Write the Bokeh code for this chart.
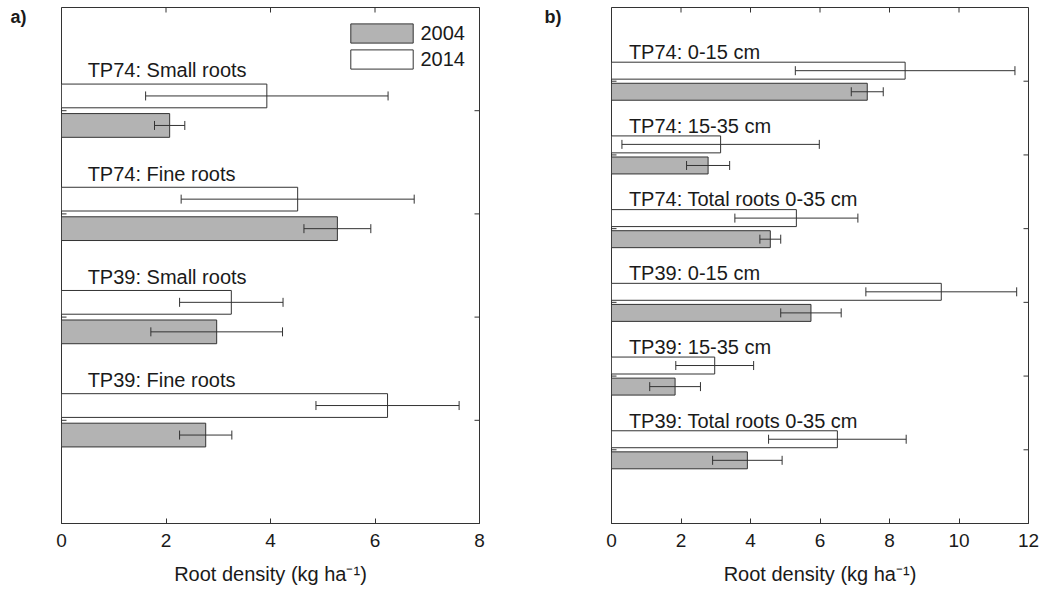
import math
from bokeh.plotting import figure
from bokeh.models import (ColumnDataSource, Whisker, TeeHead, Range1d,
                          FixedTicker, Legend, LegendItem)
from bokeh.layouts import row
from bokeh.embed import file_html
from bokeh.resources import INLINE
from bokeh.core.properties import value

# ---------------- data ----------------
cats_a = ["TP74: Small roots", "TP74: Fine roots", "TP39: Small roots", "TP39: Fine roots"]
a_2004 = [2.07, 5.28, 2.97, 2.76]
a_2004_err = [0.29, 0.64, 1.26, 0.50]
a_2014 = [3.93, 4.52, 3.25, 6.24]
a_2014_err = [2.32, 2.23, 0.99, 1.37]
xticks_a = [0, 2, 4, 6, 8]

cats_b = ["TP74: 0-15 cm", "TP74: 15-35 cm", "TP74: Total roots 0-35 cm",
          "TP39: 0-15 cm", "TP39: 15-35 cm", "TP39: Total roots 0-35 cm"]
b_2004 = [7.36, 2.78, 4.57, 5.74, 1.83, 3.91]
b_2004_err = [0.46, 0.62, 0.30, 0.87, 0.73, 1.00]
b_2014 = [8.45, 3.14, 5.32, 9.49, 2.97, 6.50]
b_2014_err = [3.16, 2.84, 1.77, 2.17, 1.12, 1.98]
xticks_b = [0, 2, 4, 6, 8, 10, 12]

series_names = ["2004", "2014"]
xlabel = "Root density (kg ha\u207b\u00b9)"

FONT = "Liberation Sans"
DARK = "#333333"
TXT = "#1a1a1a"
GREY = "#b3b3b3"
H = 590
BT, BB = 7, 67


def panel(cats, v04, e04, v14, e14, xticks, width, bl, br, tag, txt_off, legend):
    n = len(cats)
    pos = [n - i for i in range(n)]
    p = figure(width=width, height=H, x_range=Range1d(xticks[0], xticks[-1]),
               y_range=Range1d(0, n + 1), output_backend="svg", toolbar_location=None,
               min_border_left=bl, min_border_right=br, min_border_top=BT,
               min_border_bottom=BB)
    p.grid.visible = False
    p.outline_line_color = DARK
    p.background_fill_color = "white"
    p.border_fill_color = "white"

    off, hgt = 0.143, 0.23
    s04 = ColumnDataSource(dict(y=[q - off for q in pos], x=v04,
                                lo=[v - e for v, e in zip(v04, e04)],
                                hi=[v + e for v, e in zip(v04, e04)]))
    s14 = ColumnDataSource(dict(y=[q + off for q in pos], x=v14,
                                lo=[v - e for v, e in zip(v14, e14)],
                                hi=[v + e for v, e in zip(v14, e14)]))
    r04 = p.hbar(y="y", right="x", left=0, height=hgt, source=s04,
                 fill_color=GREY, line_color=DARK, line_width=1)
    r14 = p.hbar(y="y", right="x", left=0, height=hgt, source=s14,
                 fill_color="white", line_color=DARK, line_width=1)
    for s in (s04, s14):
        w = Whisker(source=s, base="y", lower="lo", upper="hi", dimension="width",
                    line_color=DARK, line_width=1, level="overlay",
                    upper_head=TeeHead(size=9, line_color=DARK, line_width=1),
                    lower_head=TeeHead(size=9, line_color=DARK, line_width=1))
        p.add_layout(w)

    ts = ColumnDataSource(dict(x=[0.5] * n, y=[q + txt_off for q in pos], t=cats))
    p.text(x="x", y="y", text="t", source=ts, text_font=value(FONT),
           text_font_size="20px", text_color=TXT, text_baseline="middle",
           text_align="left")

    # inward ticks on top, left and right edges (clipped half-dashes)
    p.scatter(x=xticks, y=[n + 1] * len(xticks), marker="dash", size=10,
              angle=math.pi / 2, line_color=DARK, line_width=1)
    p.scatter(x=[xticks[-1]] * n, y=pos, marker="dash", size=10,
              line_color=DARK, line_width=1)
    p.scatter(x=[xticks[0]] * n, y=pos, marker="dash", size=10,
              line_color=DARK, line_width=1)

    ax = p.xaxis[0]
    ax.ticker = FixedTicker(ticks=xticks)
    ax.major_tick_in = 5
    ax.major_tick_out = 0
    ax.minor_tick_in = 0
    ax.minor_tick_out = 0
    ax.axis_line_color = DARK
    ax.major_tick_line_color = DARK
    ax.major_label_text_font = FONT
    ax.major_label_text_font_size = "19px"
    ax.major_label_text_color = TXT
    ax.major_label_standoff = 10
    ax.axis_label = xlabel
    ax.axis_label_text_font = FONT
    ax.axis_label_text_font_size = "20px"
    ax.axis_label_text_font_style = "normal"
    ax.axis_label_text_color = TXT
    ax.axis_label_standoff = 13

    # left axis only carries the panel tag ("a)" / "b)") beside the frame's top
    frame_h = H - BT - BB
    tag_y = (n + 1) - 9.0 / (frame_h / (n + 1))
    ay = p.yaxis[0]
    ay.ticker = FixedTicker(ticks=[tag_y])
    ay.major_label_overrides = {tag_y: tag}
    ay.major_tick_in = 0
    ay.major_tick_out = 0
    ay.minor_tick_in = 0
    ay.minor_tick_out = 0
    ay.axis_line_color = None
    ay.major_label_orientation = "horizontal"
    ay.major_label_text_font = FONT
    ay.major_label_text_font_size = "18px"
    ay.major_label_text_font_style = "bold"
    ay.major_label_text_color = TXT
    ay.major_label_standoff = bl - 26

    if legend:
        lg = Legend(items=[LegendItem(label=series_names[0], renderers=[r04]),
                           LegendItem(label=series_names[1], renderers=[r14])],
                    location="top_right", glyph_width=78, glyph_height=24,
                    label_standoff=0, spacing=2, padding=8, margin=6,
                    border_line_alpha=0, background_fill_alpha=0,
                    label_text_font=FONT, label_text_font_size="20px",
                    label_text_color=TXT, label_height=24)
        p.add_layout(lg)
    return p


pa = panel(cats_a, a_2004, a_2004_err, a_2014, a_2014_err, xticks_a, 535, 61, 56, "a)", 0.39, True)
pb = panel(cats_b, b_2004, b_2004_err, b_2014, b_2014_err, xticks_b, 505, 76, 12, "b)", 0.396, False)

layout = row(pa, pb)
open("out.html", "w").write(file_html(layout, INLINE))
